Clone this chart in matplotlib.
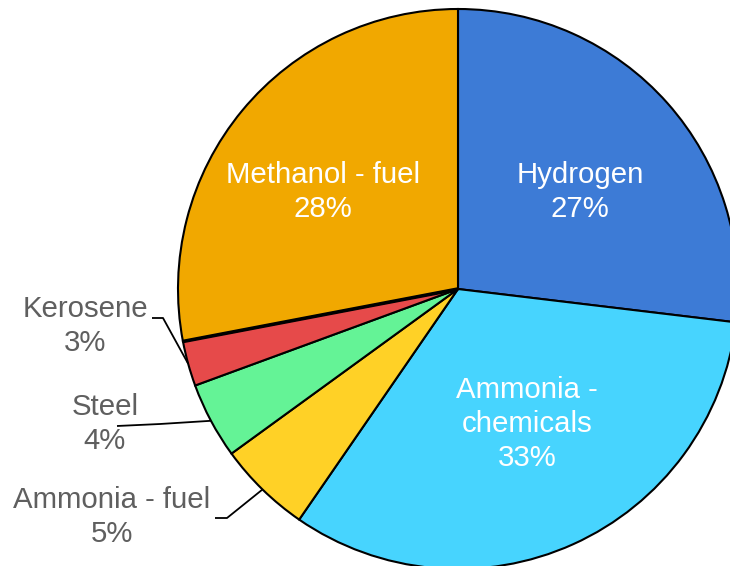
import numpy as np
import matplotlib
matplotlib.use("Agg")
import matplotlib.pyplot as plt

categories = ["Hydrogen", "Ammonia -\nchemicals", "Ammonia - fuel", "Steel", "Kerosene", "Methanol - fuel"]
values = [26.9, 32.7, 5.4, 4.4, 2.6, 28.0]
colors = ["#3d7bd6", "#47d4fe", "#ffd126", "#64f396", "#e64a4a", "#f1a800"]

W, H = 730, 566
plt.rcParams['font.family'] = ['Liberation Sans', 'DejaVu Sans']
fig = plt.figure(figsize=(W / 100, H / 100), dpi=100)
ax = fig.add_axes([0, 0, 1, 1])

cx, cy, R = 458, H - 289, 280
wedges, _ = ax.pie(values, colors=colors, startangle=90, counterclock=False,
                   center=(cx, cy), radius=R, frame=True,
                   wedgeprops=dict(edgecolor='black', linewidth=1.5))
ax.set_xlim(0, W)
ax.set_ylim(0, H)
ax.set_aspect('equal')
ax.axis('off')

# slightly heavier boundary between Kerosene and Methanol - fuel as in the reference
wk = wedges[4]
a = np.deg2rad(wk.theta1)
ax.plot([cx, cx + R * np.cos(a)], [cy, cy + R * np.sin(a)], color='black', lw=2.6,
        solid_capstyle='butt', zorder=4)

pcts = [f"{round(v)}%" for v in values]
fs = 21.2
ls = 1.27
# inside labels (white)
inside = {0: (580, 192), 1: (527, 424), 5: (323, 192)}
for i, (x, y) in inside.items():
    ax.text(x, H - y, f"{categories[i]}\n{pcts[i]}", color='white', fontsize=fs,
            ha='center', va='center', linespacing=ls)

# outside labels (gray) with leader lines
outside = {4: ((85, 326), (152, 318), (163, 318)),
           3: ((105, 424), (117, 426), (160, 424)),
           2: ((112, 517), (215, 518), (227, 518))}
for i, ((x, y), p0, p1) in outside.items():
    ax.text(x, H - y, f"{categories[i]}\n{pcts[i]}", color='#5f5f5f', fontsize=fs,
            ha='center', va='center', linespacing=ls)
    w = wedges[i]
    ang = np.deg2rad((w.theta1 + w.theta2) / 2)
    ex, ey = cx + R * np.cos(ang), cy + R * np.sin(ang)
    ax.plot([p0[0], p1[0], ex], [H - p0[1], H - p1[1], ey], color='black', lw=1.3,
            solid_capstyle='butt', zorder=5)

fig.savefig("out.png", dpi=100)
